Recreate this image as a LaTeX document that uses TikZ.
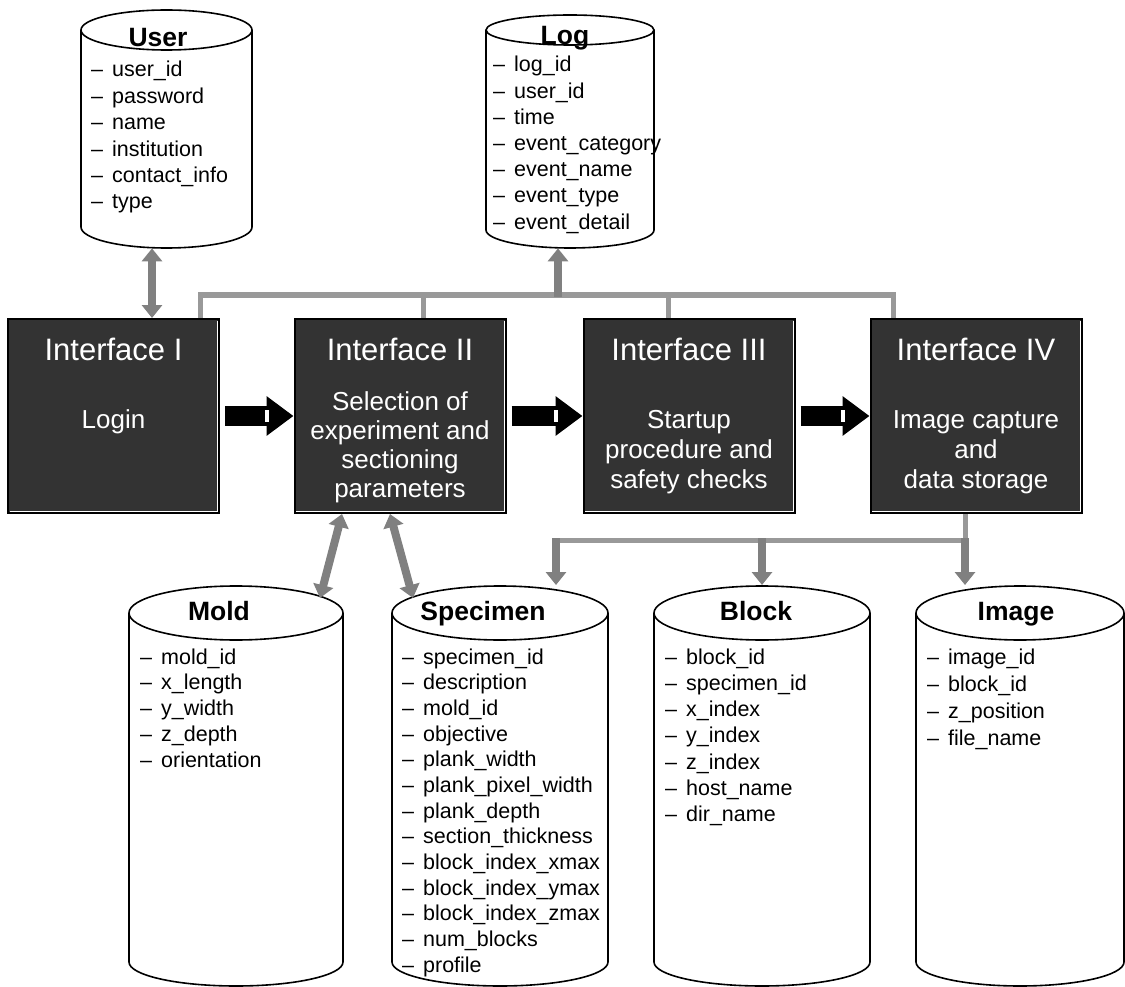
\documentclass[tikz,border=0pt]{standalone}
\usepackage{fontspec}
\setmainfont{Liberation Sans}
\usetikzlibrary{arrows.meta,calc}
\definecolor{boxgray}{HTML}{333333}
\definecolor{busgray}{HTML}{999999}
\definecolor{arrgray}{HTML}{808080}

% database cylinder: name, left x, right x, top-ellipse centre y, top radius, side end y, bottom radius
\newcommand\dbcyl[7]{%
  \node[inner sep=0, minimum width={#3-#2}, minimum height={#6+#7-(#4-#5)}, anchor=north west] (#1) at (#2,{#4-#5}) {};
  \draw[cylline] (#2,#4) -- (#2,#6) arc[start angle=180, end angle=0, x radius={(#3-#2)/2}, y radius=#7] -- (#3,#4);
  \draw[cylline] ({(#2+#3)/2},#4) ellipse[x radius={(#3-#2)/2}, y radius=#5];
}
% field list: name, x, first baseline, line spacing, items
\newcommand\dbfields[5]{%
  \foreach \t [count=\i from 0] in {#5} {\node[field] (#1-f\i) at (#2,{#3+#4*\i}) {\textendash\hspace{9pt}\t};}%
}

\begin{document}
\begin{tikzpicture}[x=1pt,y=-1pt,
  cylline/.style={draw=black, line width=1.6pt},
  field/.style={anchor=base west, inner sep=0, font=\fontsize{21.5}{26}\selectfont},
  dbtitle/.style={anchor=base, inner sep=0, font=\bfseries\fontsize{26.5}{30}\selectfont},
  ibox/.style={draw=black, line width=2pt, fill=boxgray, minimum width=211pt, minimum height=194pt, inner sep=0},
  ititle/.style={anchor=base, inner sep=0, text=white, font=\fontsize{31}{34}\selectfont},
  itext/.style={anchor=base, inner sep=0, text=white, font=\fontsize{26}{30}\selectfont},
  bus/.style={draw=busgray, line width=5pt},
  garrow/.style={draw=arrgray, line width=8pt, -{Triangle[width=20pt,length=13pt]}},
  gdarrow/.style={draw=arrgray, line width=8pt, {Triangle[width=20pt,length=13pt]}-{Triangle[width=20pt,length=13pt]}},
  barrow/.style={draw=black, line width=20pt, -{Triangle[width=38pt,length=27pt]}}
]
\useasboundingbox (0,0) rectangle (1125,987);
\fill[white] (0,0) rectangle (1125,987);

% ---------- interface boxes ----------
\node[ibox] (i1) at (113.5,416) {};
\node[ibox] (i2) at (400,416) {};
\node[ibox] (i3) at (689,416) {};
\node[ibox] (i4) at (976,416) {};
\foreach \b in {i1,i2,i3,i4}
  \draw[white, line width=1pt] ($(\b.south west)+(2.5,-2.5)$) -- ($(\b.south east)+(-2.5,-2.5)$) -- ($(\b.north east)+(-2.5,2.5)$);

\node[ititle] (i1-t) at (113.5,360) {Interface I};
\node[ititle] (i2-t) at (400,360) {Interface II};
\node[ititle] (i3-t) at (689,360) {Interface III};
\node[ititle] (i4-t) at (976,360) {Interface IV};

\node[itext] (i1-l0) at (113.5,428) {Login};
\foreach \t [count=\i from 0] in {Selection of, experiment and, sectioning, parameters}
  \node[itext] (i2-l\i) at (400,{410+29*\i}) {\t};
\foreach \t [count=\i from 0] in {Startup, procedure and, safety checks}
  \node[itext] (i3-l\i) at (689,{428+30*\i}) {\t};
\foreach \t [count=\i from 0] in {Image capture, and, data storage}
  \node[itext] (i4-l\i) at (976,{428+30*\i}) {\t};

% ---------- flow arrows ----------
\draw[barrow] ($(i1.east)+(5,0)$) -- (i2.west);
\draw[barrow] ($(i2.east)+(5,0)$) -- (i3.west);
\draw[barrow] ($(i3.east)+(5,0)$) -- (i4.west);
\foreach \b in {i2,i3,i4}
  \fill[white] ($(\b.west)+(-29,-6)$) rectangle ++(4,12);

% ---------- databases ----------
\dbcyl{user}{81}{252}{30}{20}{227}{21}
\node[dbtitle] (user-t) at (158,47) {User};
\dbfields{user}{91}{77}{26.4}{user\_id, password, name, institution, contact\_info, type}

\dbcyl{log}{486}{654}{30}{15}{230}{18}
\node[dbtitle] (log-t) at (565,45) {Log};
\dbfields{log}{493}{72}{26.2}{log\_id, user\_id, time, event\_category, event\_name, event\_type, event\_detail}

\dbcyl{mold}{129}{343}{613}{27}{962}{24}
\node[dbtitle] (mold-t) at (219,620) {Mold};
\dbfields{mold}{140}{664}{25.75}{mold\_id, x\_length, y\_width, z\_depth, orientation}

\dbcyl{spec}{392}{608}{613}{27}{962}{24}
\node[dbtitle] (spec-t) at (483,620) {Specimen};
\dbfields{spec}{402}{664}{25.67}{specimen\_id, description, mold\_id, objective, plank\_width, plank\_pixel\_width, plank\_depth, section\_thickness, block\_index\_xmax, block\_index\_ymax, block\_index\_zmax, num\_blocks, profile}

\dbcyl{block}{654}{870}{613}{27}{962}{24}
\node[dbtitle] (block-t) at (756,620) {Block};
\dbfields{block}{665}{664}{26.3}{block\_id, specimen\_id, x\_index, y\_index, z\_index, host\_name, dir\_name}

\dbcyl{image}{916}{1124}{613}{27}{962}{24}
\node[dbtitle] (image-t) at (1016,620) {Image};
\dbfields{image}{927}{664}{27}{image\_id, block\_id, z\_position, file\_name}

% ---------- event bus to the log ----------
\coordinate (tb1) at (200,295);
\coordinate (tb2) at (423,295);
\coordinate (tb3) at (668,295);
\coordinate (tb4) at (893,295);
\coordinate (tbl) at (558,295);
\draw[bus] (i1.north -| tb1) -- (tb1) -- (tb4) -- (i4.north -| tb4);
\draw[bus] (tb2) -- (i2.north -| tb2);
\draw[bus] (tb3) -- (i3.north -| tb3);
\draw[garrow] ($(tbl)+(0,2)$) -- (log.south -| tbl);

% ---------- user table link ----------
\coordinate (ux) at (152,0);
\draw[gdarrow] (user.south -| ux) -- (i1.north -| ux);

% ---------- interface II to mold / specimen ----------
\coordinate (m1) at (342,0);
\coordinate (m2) at (320,598);
\coordinate (s1) at (390,0);
\coordinate (s2) at (413,598);
\draw[gdarrow] (i2.south -| m1) -- (m2);
\draw[gdarrow] (i2.south -| s1) -- (s2);

% ---------- interface IV storage bus ----------
\coordinate (bb) at (965,540);
\coordinate (bs) at (556,540);
\coordinate (bk) at (762,540);
\coordinate (tiprow) at (0,585);
\draw[bus] (i4.south -| bb) -- (bb) -- (bs);
\draw[garrow] ($(bs)+(0,-2)$) -- (bs |- tiprow);
\draw[garrow] ($(bk)+(0,-2)$) -- (bk |- tiprow);
\draw[garrow] ($(bb)+(0,-2)$) -- (bb |- tiprow);
\end{tikzpicture}
\end{document}
